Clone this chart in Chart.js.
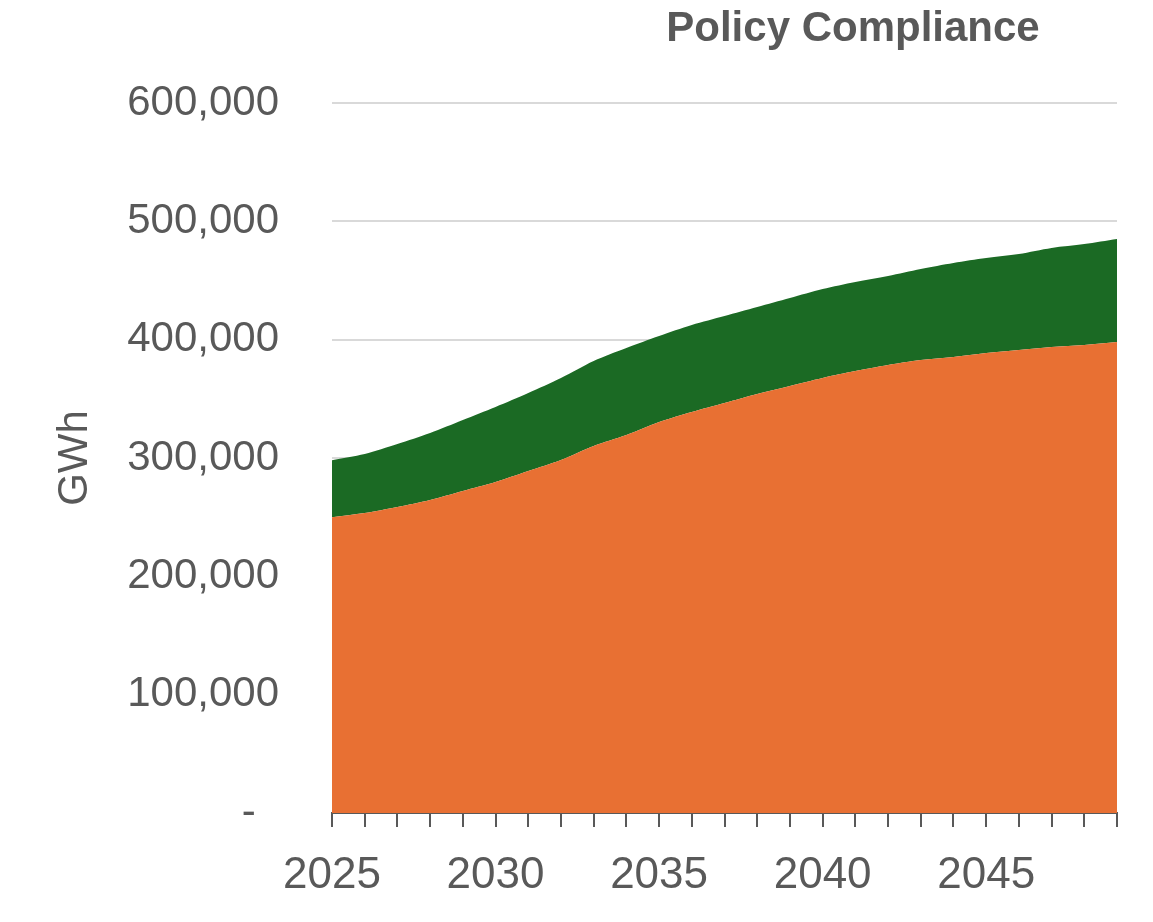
<!DOCTYPE html>
<html>
<head>
<meta charset="utf-8">
<script src="https://cdn.jsdelivr.net/npm/chart.js@4"></script>
<style>
    html, body { margin: 0; padding: 0; background: #fff; }
    #wrap { width: 1153px; height: 922px; position: relative; }
</style>
</head>
<body>
<div id="wrap"><canvas id="chart"></canvas></div>
<script>
const years = ['2025', '2026', '2027', '2028', '2029', '2030', '2031', '2032', '2033', '2034',
    '2035', '2036', '2037', '2038', '2039', '2040', '2041', '2042', '2043', '2044',
    '2045', '2046', '2047', '2048', '2049'];

// bottom layer (orange)
const baseLoad = [250000, 253500, 258600, 264500, 272100, 279700, 289000, 298300, 310200, 319400,
    330400, 338900, 346500, 354100, 360900, 367700, 373500, 378600, 382800, 385400,
    388700, 391300, 393800, 395500, 398000];

// top layer (green), stacked on the orange
const policyAdd = [48200, 49900, 53200, 56600, 60000, 63400, 65900, 69300, 71800, 73600,
    72700, 73500, 73500, 73500, 74300, 75100, 75300, 75200, 76900, 79400,
    80300, 81100, 83700, 85300, 87100];

const yTicks = [0, 100000, 200000, 300000, 400000, 500000, 600000];

const textColor = '#595959';
const fontFamily = '"Liberation Sans", Arial, sans-serif';

// title sits to the right, not centred on the plot
const titlePlugin = {
    id: 'sideTitle',
    afterDraw(chart) {
        const ctx = chart.ctx;
        ctx.save();
        ctx.font = 'bold 42px ' + fontFamily;
        ctx.fillStyle = textColor;
        ctx.textAlign = 'center';
        ctx.textBaseline = 'middle';
        ctx.fillText('Policy Compliance', 853, 29);
        ctx.restore();
    }
};

const ctx = document.getElementById('chart');
new Chart(ctx, {
    type: 'line',
    data: {
        labels: years,
        datasets: [{
            label: 'Base',
            data: baseLoad,
            backgroundColor: '#e87033',
            borderWidth: 0,
            pointRadius: 0,
            tension: 0.3,
            fill: 'origin'
        }, {
            label: 'Policy',
            data: policyAdd,
            backgroundColor: '#1b6a24',
            borderWidth: 0,
            pointRadius: 0,
            tension: 0.3,
            fill: '-1'
        }]
    },
    options: {
        responsive: true,
        maintainAspectRatio: false,
        animation: false,
        layout: { padding: { top: 103, right: 36, left: 0, bottom: 0 } },
        plugins: {
            legend: { display: false },
            tooltip: { enabled: false }
        },
        scales: {
            x: {
                stacked: true,
                grid: {
                    drawOnChartArea: false,
                    drawTicks: true,
                    tickLength: 14,
                    color: textColor,
                    lineWidth: 2
                },
                border: { display: true, color: textColor, width: 2 },
                ticks: {
                    autoSkip: false,
                    maxRotation: 0,
                    padding: 22,
                    color: textColor,
                    font: { family: fontFamily, size: 44 },
                    callback: function(value, index) {
                        return index % 5 === 0 ? years[index] : '';
                    }
                },
                afterFit: function(scale) { scale.height = 109; }
            },
            y: {
                stacked: true,
                min: 0,
                max: 600000,
                afterBuildTicks: function(scale) {
                    scale.ticks = yTicks.map(v => ({ value: v }));
                },
                grid: {
                    drawTicks: false,
                    color: '#d9d9d9',
                    lineWidth: 2
                },
                border: { display: false },
                ticks: {
                    padding: 53,
                    color: textColor,
                    font: { family: fontFamily, size: 42 },
                    callback: function(value) {
                        return value === 0 ? '-  ' : value.toLocaleString('en-US');
                    }
                },
                title: {
                    display: true,
                    text: 'GWh',
                    color: textColor,
                    font: { family: fontFamily, size: 42 },
                    padding: { top: 50, bottom: 0 }
                },
                afterFit: function(scale) { scale.width = 332; }
            }
        }
    },
    plugins: [titlePlugin]
});
</script>
</body>
</html>
